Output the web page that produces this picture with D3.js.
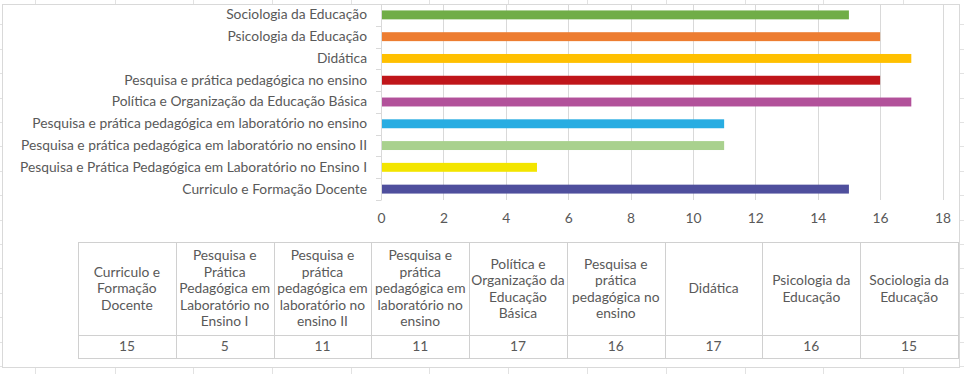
<!DOCTYPE html>
<html>
<head>
<meta charset="utf-8">
<script src="https://cdn.jsdelivr.net/npm/d3@7"></script>
<style>
  body { margin: 0; background: #fff; }
  text { font-family: Lato, "Open Sans", sans-serif; fill: #595959; }
</style>
</head>
<body>
<div id="chart"></div>
<script>
// categories, bottom bar first (same order as the data table)
const categories = [
  'Curriculo e Formação Docente',
  'Pesquisa e Prática Pedagógica em Laboratório no Ensino I',
  'Pesquisa e prática pedagógica em laboratório no ensino II',
  'Pesquisa e prática pedagógica em laboratório no ensino ',
  'Política e Organização da Educação Básica',
  'Pesquisa e prática pedagógica no ensino ',
  'Didática',
  'Psicologia da Educação',
  'Sociologia da Educação'
]
const values = [15, 5, 11, 11, 17, 16, 17, 16, 15]
const colors = ['#4f4f9d', '#f3e500', '#a9d18e', '#29ade2', '#b2519a', '#c0161a', '#ffc000', '#ed7d31', '#70ad47']
// header lines of the data table, as Excel wraps them
const tableHeads = [
  ['Curriculo e', 'Formação', 'Docente'],
  ['Pesquisa e', 'Prática', 'Pedagógica em', 'Laboratório no', 'Ensino I'],
  ['Pesquisa e', 'prática', 'pedagógica em', 'laboratório no', 'ensino II'],
  ['Pesquisa e', 'prática', 'pedagógica em', 'laboratório no', 'ensino'],
  ['Política e', 'Organização da', 'Educação', 'Básica'],
  ['Pesquisa e', 'prática', 'pedagógica no', 'ensino'],
  ['Didática'],
  ['Psicologia da', 'Educação'],
  ['Sociologia da', 'Educação']
]
const xTicks = [0, 2, 4, 6, 8, 10, 12, 14, 16, 18]

const W = 964, H = 374
const fs = '13.8px'
const svg = d3.select('#chart').append('svg')
  .attr('width', W)
  .attr('height', H)

// spreadsheet cells behind the chart
const sheetCols = [35, 115, 193, 272, 351, 429, 508, 587, 666, 745, 823, 903]
const sheet = svg.append('g').attr('stroke', '#e2e2e2').attr('stroke-width', 1)
sheet.selectAll('.vc').data(sheetCols).enter().append('line')
  .attr('x1', d => d + 0.5).attr('x2', d => d + 0.5)
  .attr('y1', 0).attr('y2', H)
sheet.selectAll('.hr').data(d3.range(1, 16)).enter().append('line')
  .attr('x1', 0).attr('x2', W)
  .attr('y1', d => Math.round(d * 24.4) + 0.5).attr('y2', d => Math.round(d * 24.4) + 0.5)

// chart frame
svg.append('rect')
  .attr('x', 2.5).attr('y', 4.5)
  .attr('width', 957).attr('height', 363)
  .attr('fill', '#fff')
  .attr('stroke', '#d9d9d9')

const plot = { left: 381, right: 942.5, top: 4, bottom: 200 }

const x = d3.scaleLinear()
  .domain([0, 18])
  .range([plot.left, plot.right])

const y = d3.scaleBand()
  .domain(categories)
  .range([plot.bottom, plot.top])
  .paddingInner(0.59)
  .paddingOuter(0.295)

// vertical gridlines
svg.append('g')
  .selectAll('line')
  .data(xTicks.slice(1))
  .enter()
  .append('line')
    .attr('x1', d => Math.round(x(d)) + 0.5)
    .attr('x2', d => Math.round(x(d)) + 0.5)
    .attr('y1', plot.top)
    .attr('y2', plot.bottom)
    .attr('stroke', '#d9d9d9')

// x tick labels
svg.append('g')
  .attr('transform', `translate(0, ${plot.bottom + 9})`)
  .call(d3.axisBottom(x).tickValues(xTicks).tickSize(0).tickPadding(4))
  .call(g => g.select('.domain').remove())
  .selectAll('text')
    .style('font-size', fs)
    .attr('fill', '#595959')

// category axis line with ticks between categories
const boundaries = d3.range(categories.length + 1).map(i => plot.bottom - i * (plot.bottom - plot.top) / categories.length)
const yAxis = svg.append('g').attr('stroke', '#d9d9d9')
yAxis.append('line')
  .attr('x1', plot.left + 0.5).attr('x2', plot.left + 0.5)
  .attr('y1', plot.top).attr('y2', plot.bottom)
yAxis.selectAll('.tk').data(boundaries).enter().append('line')
  .attr('x1', plot.left - 5).attr('x2', plot.left + 0.5)
  .attr('y1', d => Math.round(d) + 0.5).attr('y2', d => Math.round(d) + 0.5)

// category labels
svg.append('g')
  .attr('transform', `translate(${plot.left - 14}, 0)`)
  .call(d3.axisLeft(y).tickSize(0).tickPadding(0))
  .call(g => g.select('.domain').remove())
  .selectAll('text')
    .style('font-size', fs)
    .attr('fill', '#595959')

// bars
svg.selectAll('.bar')
  .data(categories)
  .enter()
  .append('rect')
    .attr('class', 'bar')
    .attr('x', plot.left + 1)
    .attr('y', d => y(d))
    .attr('width', (d, i) => x(values[i]) - plot.left - 1)
    .attr('height', y.bandwidth())
    .attr('fill', (d, i) => colors[i])

// data table
const table = { left: 78, right: 958, top: 242, mid: 335, bottom: 358 }
const col = d3.scaleBand()
  .domain(d3.range(categories.length))
  .range([table.left, table.right])

const tg = svg.append('g')
tg.append('rect')
  .attr('x', table.left + 0.5).attr('y', table.top + 0.5)
  .attr('width', table.right - table.left).attr('height', table.bottom - table.top)
  .attr('fill', 'none').attr('stroke', '#d0d0d0')
tg.append('line')
  .attr('x1', table.left).attr('x2', table.right)
  .attr('y1', table.mid + 0.5).attr('y2', table.mid + 0.5)
  .attr('stroke', '#d0d0d0')
tg.selectAll('.cl').data(d3.range(1, categories.length)).enter().append('line')
  .attr('x1', d => Math.round(col(d)) + 0.5).attr('x2', d => Math.round(col(d)) + 0.5)
  .attr('y1', table.top).attr('y2', table.bottom)
  .attr('stroke', '#d0d0d0')

const lineH = 16.5
const headMid = (table.top + table.mid) / 2
tableHeads.forEach((lines, i) => {
  const t = tg.append('text')
    .attr('text-anchor', 'middle')
    .style('font-size', fs)
  lines.forEach((l, k) => {
    t.append('tspan')
      .attr('x', col(i) + col.bandwidth() / 2)
      .attr('y', headMid + (k - (lines.length - 1) / 2) * lineH)
      .attr('dy', '0.35em')
      .text(l)
  })
})

tg.selectAll('.val')
  .data(values)
  .enter()
  .append('text')
    .attr('x', (d, i) => col(i) + col.bandwidth() / 2)
    .attr('y', (table.mid + table.bottom) / 2)
    .attr('dy', '0.35em')
    .attr('text-anchor', 'middle')
    .style('font-size', fs)
    .text(d => d)
</script>
</body>
</html>
